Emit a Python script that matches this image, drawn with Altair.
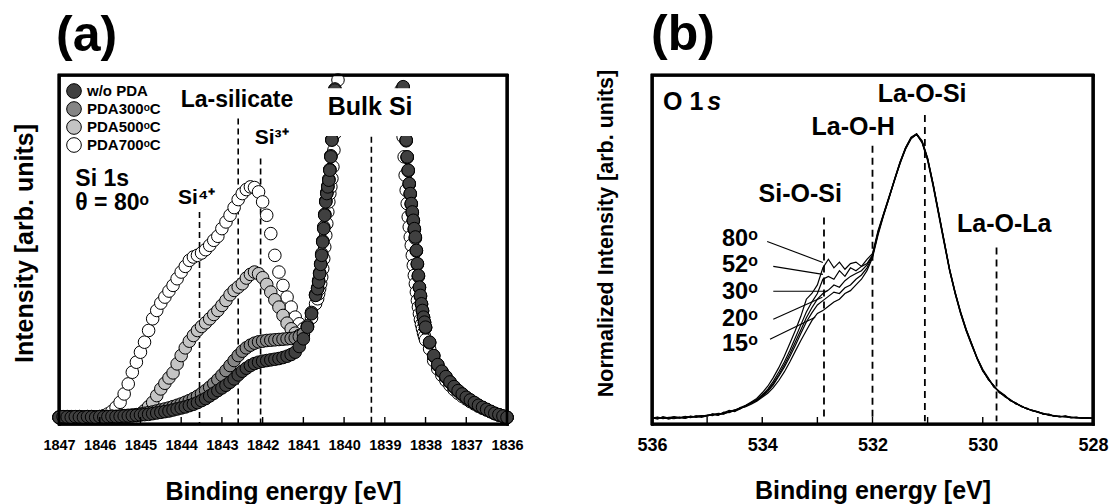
import altair as alt
import pandas as pd

FONT = "Liberation Sans"

# ---------------- Panel (a): Si 1s ----------------
series_a = ["w/o PDA", "PDA300ᵒC", "PDA500ᵒC", "PDA700ᵒC"]
fills_a = ["#404040", "#858585", "#c4c4c4", "#ffffff"]
draw_order = ["PDA700ᵒC", "PDA500ᵒC", "PDA300ᵒC", "w/o PDA"]

# binding-energy grid of the measured points (eV)
e_part1 = [round(1847.0 - 0.1 * i, 3) for i in range(64)]     # 1847.0 .. 1840.7
e_part2 = [round(1840.65 - 0.025 * i, 3) for i in range(21)]  # 1840.65 .. 1840.15
e_part3 = [1840.0, 1839.6, 1839.3, 1839.0, 1838.7]
e_part4 = [round(1838.6 - 0.025 * i, 3) for i in range(25)]   # 1838.6 .. 1838.0
e_part5 = [round(1837.9 - 0.1 * i, 3) for i in range(20)]     # 1837.9 .. 1836.0
energy_a = e_part1 + e_part2 + e_part3 + e_part4 + e_part5

wo_pda = [20, 22, 21, 20, 22, 21, 20, 22, 21, 20,
          22, 21, 22, 23, 22, 23, 24, 24, 25, 26,
          27, 28, 29, 31, 33, 35, 37, 39, 42, 45,
          48, 51, 55, 59, 64, 70, 76, 84, 92, 100,
          108, 116, 125, 135, 147, 158, 167, 175, 181, 185,
          188, 190, 192, 194, 196, 199, 203, 208, 215, 232,
          255, 290, 330, 385,
          405, 425, 450, 478, 505, 545, 585, 625, 665, 690, 710, 730, 760, 800, 850, 900, 950, 1000, 1050, 1100, 1160,
          1500, 3000, 3600, 3000, 1500,
          1150, 1080, 1010, 950, 900, 850, 800, 760, 720, 690, 660, 635, 610, 585, 560, 520, 480, 445, 410, 385, 360, 340, 320, 305, 290,
          245, 205, 178, 158, 142, 126, 112, 100, 90, 80, 72, 64, 56, 50, 44, 38, 32, 28, 24, 20]

pda300 = [21, 20, 22, 21, 20, 22, 21, 20, 22, 21,
          21, 22, 22, 23, 23, 24, 25, 26, 27, 28,
          30, 32, 34, 36, 39, 42, 45, 48, 52, 56,
          60, 65, 70, 76, 83, 91, 100, 110, 121, 133,
          146, 160, 175, 190, 205, 218, 228, 236, 242, 246,
          248, 250, 251, 252, 253, 254, 255, 256, 258, 262,
          270, 294, 334, 388,
          408, 430, 453, 480, 510, 548, 590, 628, 668, 693, 712, 733, 762, 803, 852, 902, 952, 1003, 1052, 1104, 1162,
          1500, 3000, 3600, 3000, 1500,
          1140, 1075, 1005, 948, 896, 848, 798, 758, 718, 688, 658, 632, 608, 582, 556, 518, 478, 442, 408, 382, 358, 338, 318, 303, 288,
          243, 204, 176, 157, 140, 125, 111, 99, 89, 79, 71, 63, 55, 49, 43, 37, 31, 27, 23, 20]

pda500 = [20, 21, 22, 20, 21, 22, 20, 21, 22, 21,
          22, 21, 22, 22, 21, 21, 22, 23, 24, 25,
          30, 40, 52, 65, 85, 105, 122, 138, 153, 180,
          205, 228, 248, 265, 280, 292, 303, 315, 328, 340,
          355, 370, 387, 400, 410, 420, 437, 448, 455, 450,
          438, 418, 395, 372, 350, 325, 302, 285, 272, 265,
          268, 292, 332, 386,
          406, 427, 451, 479, 507, 547, 587, 627, 667, 692, 711, 732, 761, 802, 851, 901, 951, 1002, 1051, 1102, 1161,
          1500, 3000, 3600, 3000, 1500,
          1145, 1078, 1008, 949, 898, 849, 799, 759, 719, 689, 659, 633, 609, 583, 558, 519, 479, 443, 409, 383, 359, 339, 319, 304, 289,
          244, 204, 177, 157, 141, 125, 111, 99, 89, 79, 71, 63, 56, 49, 43, 37, 31, 27, 23, 20]

pda700 = [19, 21, 20, 22, 21, 19, 21, 22, 20, 21,
          22, 25, 30, 38, 50, 65, 90, 120, 155, 185,
          215, 245, 280, 315, 340, 362, 380, 398, 415, 435,
          455, 472, 490, 500, 505, 512, 522, 535, 550, 562,
          585, 605, 625, 648, 672, 690, 702, 710, 708, 695,
          665, 625, 570, 505, 455, 415, 380, 350, 320, 300,
          285, 290, 318, 360,
          375, 390, 405, 420, 440, 465, 495, 530, 565, 600, 635, 665, 690, 710, 735, 770, 820, 870, 920, 975, 1030,
          1400, 2800, 3400, 2800, 1400,
          1000, 930, 860, 800, 745, 700, 660, 620, 590, 560, 535, 505, 475, 445, 420, 395, 370, 350, 330, 312, 298, 285, 272, 262, 252,
          225, 190, 165, 146, 130, 116, 103, 92, 83, 75, 67, 60, 53, 47, 42, 37, 32, 27, 23, 19]

values_a = {"w/o PDA": wo_pda, "PDA300ᵒC": pda300, "PDA500ᵒC": pda500, "PDA700ᵒC": pda700}

tick_a = [1846, 1845, 1844, 1843, 1842, 1841, 1840, 1839, 1838, 1837]
label_a = [1847, 1846, 1845, 1844, 1843, 1842, 1841, 1840, 1839, 1838, 1837, 1836]

dash_a_energy = [1843.55, 1842.6, 1842.05, 1839.33]
dash_a_top = [635, 915, 795, 890]

ann_a_text = ["La-silicate", "Bulk Si", "Si³⁺", "Si⁴⁺"]
ann_a_energy = [1842.63, 1839.36, 1841.78, 1843.62]
ann_a_int = [970, 950, 855, 676]
ann_a_size = [23, 25, 21, 21]

left_a_text = ["Si 1s", "θ = 80ᵒ"]
left_a_energy = [1846.6, 1846.6]
left_a_int = [734, 662]

bulk_box = {"e1": [1840.5], "e2": [1838.2], "i1": [862], "i2": [1005]}

# ---------------- Panel (b): O 1s ----------------
angles = ["80ᵒ", "52ᵒ", "30ᵒ", "20ᵒ", "15ᵒ"]
energy_b = [round(536.0 - 0.1 * i, 2) for i in range(81)]

o1s_80 = [0.005, 0.000, 0.008, 0.003, 0.001, 0.006, 0.004, 0.010, 0.007, 0.012,
          0.010, 0.018, 0.014, 0.022, 0.030, 0.026, 0.040, 0.048, 0.060, 0.072,
          0.092, 0.115, 0.145, 0.180, 0.220, 0.265, 0.310, 0.360, 0.420, 0.440,
          0.470, 0.530, 0.560, 0.530, 0.550, 0.525, 0.545, 0.550, 0.535, 0.560,
          0.580, 0.660, 0.720, 0.780, 0.840, 0.900, 0.950, 0.985, 1.000, 0.970,
          0.910, 0.820, 0.720, 0.620, 0.520, 0.440, 0.370, 0.310, 0.260, 0.210,
          0.170, 0.140, 0.115, 0.095, 0.080, 0.066, 0.055, 0.045, 0.036, 0.030,
          0.025, 0.018, 0.015, 0.010, 0.008, 0.010, 0.005, 0.006, 0.003, 0.004,
          0.002]
o1s_52 = [0.002, 0.006, 0.001, 0.005, 0.008, 0.003, 0.009, 0.006, 0.011, 0.009,
          0.014, 0.012, 0.020, 0.018, 0.026, 0.032, 0.036, 0.046, 0.056, 0.068,
          0.085, 0.105, 0.132, 0.165, 0.200, 0.240, 0.285, 0.330, 0.375, 0.410,
          0.440, 0.490, 0.500, 0.490, 0.520, 0.500, 0.530, 0.520, 0.535, 0.545,
          0.575, 0.655, 0.715, 0.775, 0.838, 0.895, 0.948, 0.982, 0.998, 0.968,
          0.905, 0.815, 0.715, 0.615, 0.518, 0.438, 0.368, 0.308, 0.258, 0.212,
          0.172, 0.138, 0.118, 0.092, 0.082, 0.064, 0.056, 0.043, 0.038, 0.028,
          0.026, 0.016, 0.017, 0.009, 0.010, 0.007, 0.006, 0.004, 0.005, 0.002,
          0.003]
o1s_30 = [0.004, 0.002, 0.006, 0.000, 0.005, 0.007, 0.002, 0.008, 0.009, 0.006,
          0.012, 0.016, 0.013, 0.024, 0.022, 0.030, 0.038, 0.044, 0.058, 0.066,
          0.082, 0.100, 0.125, 0.155, 0.190, 0.228, 0.270, 0.312, 0.355, 0.390,
          0.420, 0.440, 0.452, 0.470, 0.462, 0.485, 0.500, 0.510, 0.520, 0.540,
          0.572, 0.652, 0.718, 0.778, 0.836, 0.898, 0.946, 0.984, 0.997, 0.972,
          0.912, 0.822, 0.722, 0.622, 0.522, 0.442, 0.372, 0.312, 0.262, 0.210,
          0.168, 0.142, 0.114, 0.096, 0.078, 0.068, 0.053, 0.046, 0.035, 0.031,
          0.023, 0.019, 0.013, 0.011, 0.007, 0.009, 0.004, 0.007, 0.002, 0.005,
          0.001]
o1s_20 = [0.003, 0.007, 0.002, 0.006, 0.003, 0.004, 0.008, 0.005, 0.010, 0.011,
          0.011, 0.015, 0.019, 0.017, 0.028, 0.027, 0.035, 0.047, 0.055, 0.064,
          0.080, 0.096, 0.120, 0.150, 0.182, 0.218, 0.258, 0.300, 0.340, 0.372,
          0.400, 0.415, 0.430, 0.445, 0.440, 0.460, 0.470, 0.490, 0.505, 0.530,
          0.570, 0.650, 0.716, 0.776, 0.842, 0.902, 0.952, 0.988, 1.000, 0.975,
          0.915, 0.825, 0.725, 0.625, 0.525, 0.445, 0.375, 0.315, 0.264, 0.214,
          0.174, 0.144, 0.112, 0.097, 0.083, 0.065, 0.057, 0.044, 0.037, 0.029,
          0.024, 0.020, 0.014, 0.012, 0.009, 0.008, 0.007, 0.005, 0.004, 0.003,
          0.004]
o1s_15 = [0.006, 0.003, 0.005, 0.002, 0.007, 0.005, 0.003, 0.009, 0.006, 0.010,
          0.013, 0.017, 0.016, 0.020, 0.024, 0.031, 0.039, 0.043, 0.052, 0.062,
          0.076, 0.090, 0.110, 0.135, 0.165, 0.200, 0.238, 0.275, 0.310, 0.345,
          0.370, 0.380, 0.395, 0.410, 0.420, 0.440, 0.450, 0.470, 0.490, 0.520,
          0.565, 0.645, 0.712, 0.774, 0.838, 0.898, 0.950, 0.986, 0.999, 0.973,
          0.913, 0.823, 0.723, 0.623, 0.523, 0.443, 0.373, 0.313, 0.263, 0.213,
          0.171, 0.141, 0.117, 0.094, 0.081, 0.067, 0.054, 0.045, 0.036, 0.030,
          0.025, 0.017, 0.016, 0.010, 0.008, 0.011, 0.006, 0.005, 0.004, 0.003,
          0.002]
values_b = {"80ᵒ": o1s_80, "52ᵒ": o1s_52, "30ᵒ": o1s_30, "20ᵒ": o1s_20, "15ᵒ": o1s_15}

tick_b = [535, 534, 533, 532, 531, 530, 529]
label_b = [536, 534, 532, 530, 528]

dash_b_energy = [532.88, 532.0, 531.05, 529.75]
dash_b_top = [0.706, 0.958, 1.066, 0.601]

ann_b_text = ["La-O-Si", "La-O-H", "Si-O-Si", "La-O-La"]
ann_b_energy = [531.1, 532.35, 533.31, 529.61]
ann_b_int = [1.14, 1.025, 0.79, 0.685]

angle_label_energy = 534.73
angle_label_int = [0.632, 0.540, 0.446, 0.350, 0.262]
leader_e1 = [533.91, 533.80, 533.80, 533.80, 533.86]
leader_i1 = [0.622, 0.535, 0.448, 0.350, 0.280]
leader_e2 = [532.90, 532.90, 532.82, 532.91, 533.04]
leader_i2 = [0.549, 0.507, 0.448, 0.427, 0.357]

# ---------------- build ----------------
WA, WB, H = 448, 441, 349
XA_DOM, YA_DOM = [1836, 1847], [0, 1045]
XB_DOM, YB_DOM = [528, 536], [-0.0175, 1.206]
TICK_A_LEN, TICK_B_LEN = 21, 0.0245   # about 7 px in each panel's units
LW = 2.6

xa = alt.Scale(domain=XA_DOM, reverse=True, nice=False, zero=False)
ya = alt.Scale(domain=YA_DOM, nice=False, zero=False)
xb = alt.Scale(domain=XB_DOM, reverse=True, nice=False, zero=False)
yb = alt.Scale(domain=YB_DOM, nice=False, zero=False)

edge = dict(labels=False, ticks=False, grid=False, title=None, domain=True,
            domainColor="black", domainWidth=LW, domainCap="square")


def frame_rect(xdom, ydom, xs, ys):
    df = pd.DataFrame({"x1": [xdom[0]], "x2": [xdom[1]], "y1": [ydom[0]], "y2": [ydom[1]]})
    return alt.Chart(df).mark_rect(fill="white", fillOpacity=0, stroke="black",
                                   strokeWidth=LW).encode(
        x=alt.X("x1:Q", scale=xs, axis=alt.Axis(orient="top", **edge)), x2="x2:Q",
        y=alt.Y("y1:Q", scale=ys, axis=alt.Axis(orient="right", **edge)), y2="y2:Q")


def frame_line(xdom, ydom, xs, ys):
    df = pd.DataFrame({"fx": [xdom[0], xdom[1], xdom[1], xdom[0], xdom[0]],
                       "fy": [ydom[0], ydom[0], ydom[1], ydom[1], ydom[0]],
                       "k": [0, 1, 2, 3, 4]})
    return alt.Chart(df).mark_line(color="black", strokeWidth=LW, strokeCap="square",
                                   strokeJoin="miter").encode(
        x=alt.X("fx:Q", scale=xs, axis=None), y=alt.Y("fy:Q", scale=ys, axis=None),
        order=alt.Order("k:Q"))


def tick_lines(vals, ybase, length, xs, ys):
    df = pd.DataFrame({"tx": [v for v in vals for _ in (0, 1)],
                       "ty": [y for _ in vals for y in (ybase, ybase + length)],
                       "tid": [i for i in range(len(vals)) for _ in (0, 1)]})
    return alt.Chart(df).mark_line(color="black", strokeWidth=1.4).encode(
        x=alt.X("tx:Q", scale=xs, axis=None), y=alt.Y("ty:Q", scale=ys, axis=None),
        detail="tid:N")


rows = []
for k, name in enumerate(draw_order):
    for e, v in zip(energy_a, values_a[name]):
        rows.append({"E": e, "I": v, "series": name, "order": k})
df_a = pd.DataFrame(rows)

axis_xa = alt.Axis(values=label_a, format="d", labelFontSize=14.5, labelPadding=14,
                   ticks=False, tickSize=0, domain=True, domainColor="black", domainWidth=LW,
                   domainCap="square", grid=False, labelFlush=False,
                   labelOverlap=False, title="Binding energy [eV]", titleFontSize=25,
                   titlePadding=28, titleFontWeight="bold", labelFontWeight="bold")
axis_ya = alt.Axis(labels=False, ticks=False, tickSize=0, domain=True, domainColor="black",
                   domainWidth=LW, domainCap="square", grid=False,
                   title="Intensity [arb. units]", titleFontSize=25, titlePadding=22,
                   titleY=168, titleFontWeight="bold")

dash_a = alt.Chart(pd.DataFrame({"E": dash_a_energy, "top": dash_a_top,
                                 "bot": [YA_DOM[0]] * 4})).mark_rule(
    color="black", strokeWidth=1.6, strokeDash=[6, 4]).encode(
    x=alt.X("E:Q", scale=xa, axis=axis_xa),
    y=alt.Y("top:Q", scale=ya, axis=axis_ya),
    y2="bot:Q")

pts_a = alt.Chart(df_a).transform_filter("datum.I <= 1045").mark_circle(
    size=158, opacity=1, stroke="black", strokeWidth=1).encode(
    x=alt.X("E:Q", scale=xa, axis=None),
    y=alt.Y("I:Q", scale=ya, axis=None),
    fill=alt.Fill("series:N", scale=alt.Scale(domain=series_a, range=fills_a),
                  legend=alt.Legend(title=None, orient="none", legendX=7, legendY=8,
                                    symbolType="circle", symbolSize=215,
                                    symbolStrokeColor="black", symbolStrokeWidth=1,
                                    symbolOpacity=1, labelFont=FONT, labelFontWeight="bold",
                                    labelFontSize=15, labelOffset=5, rowPadding=-2,
                                    padding=0)),
    order=alt.Order("order:Q"))

box_a = alt.Chart(pd.DataFrame(bulk_box)).mark_rect(fill="white").encode(
    x=alt.X("e1:Q", scale=xa, axis=None), x2="e2:Q",
    y=alt.Y("i1:Q", scale=ya, axis=None), y2="i2:Q")

df_ann_a = pd.DataFrame({"t": ann_a_text, "E": ann_a_energy, "I": ann_a_int, "s": ann_a_size})
txt_a = alt.Chart(df_ann_a).mark_text(font=FONT, fontWeight="bold", align="center",
                                      baseline="middle", color="black").encode(
    x=alt.X("E:Q", scale=xa, axis=None), y=alt.Y("I:Q", scale=ya, axis=None), text="t:N",
    size=alt.Size("s:Q", scale=None, legend=None))

txt_a_left = alt.Chart(pd.DataFrame({"t": left_a_text, "E": left_a_energy, "I": left_a_int})).mark_text(
    font=FONT, fontWeight="bold", align="left", baseline="middle", fontSize=23, color="black").encode(
    x=alt.X("E:Q", scale=xa, axis=None), y=alt.Y("I:Q", scale=ya, axis=None), text="t:N")

panel_a = alt.layer(
    dash_a, frame_rect(XA_DOM, YA_DOM, xa, ya),
    pts_a, box_a, txt_a, txt_a_left,
    tick_lines(tick_a, YA_DOM[0], TICK_A_LEN, xa, ya),
    frame_line(XA_DOM, YA_DOM, xa, ya)
).resolve_axis(x="independent", y="independent").properties(
    width=WA, height=H,
    title=alt.Title("(a)", anchor="start", frame="group", fontSize=50, font=FONT,
                    fontWeight="bold", offset=9, dx=-3))

# panel b
rows_b = []
for name in angles:
    for e, v in zip(energy_b, values_b[name]):
        rows_b.append({"E": e, "I": v, "angle": name})
df_b = pd.DataFrame(rows_b)

axis_xb = alt.Axis(values=label_b, format="d", labelFontSize=18, labelPadding=12,
                   ticks=False, tickSize=0, domain=True, domainColor="black", domainWidth=LW,
                   domainCap="square", grid=False, labelFlush=False,
                   labelOverlap=False, title="Binding energy [eV]", titleFontSize=25,
                   titlePadding=24, titleFontWeight="bold", labelFontWeight="bold")
axis_yb = alt.Axis(labels=False, ticks=False, tickSize=0, domain=True, domainColor="black",
                   domainWidth=LW, domainCap="square", grid=False,
                   title="Normalized Intensity [arb. units]", titleFontSize=21.5,
                   titlePadding=35, titleY=158, titleFontWeight="bold")

dash_b = alt.Chart(pd.DataFrame({"E": dash_b_energy, "top": dash_b_top,
                                 "bot": [-0.008] * 4})).mark_rule(
    color="black", strokeWidth=1.8, strokeDash=[7, 5]).encode(
    x=alt.X("E:Q", scale=xb, axis=axis_xb),
    y=alt.Y("top:Q", scale=yb, axis=axis_yb),
    y2="bot:Q")

lines_b = alt.Chart(df_b).mark_line(color="black", strokeWidth=1.2).encode(
    x=alt.X("E:Q", scale=xb, axis=None), y=alt.Y("I:Q", scale=yb, axis=None),
    detail="angle:N")

leaders = alt.Chart(pd.DataFrame({"e1": leader_e1, "i1": leader_i1, "e2": leader_e2, "i2": leader_i2})).mark_rule(
    color="black", strokeWidth=1.1).encode(
    x=alt.X("e1:Q", scale=xb, axis=None), y=alt.Y("i1:Q", scale=yb, axis=None),
    x2="e2:Q", y2="i2:Q")

txt_b = alt.Chart(pd.DataFrame({"t": ann_b_text, "E": ann_b_energy, "I": ann_b_int})).mark_text(
    font=FONT, fontWeight="bold", align="center", baseline="middle", fontSize=25, color="black").encode(
    x=alt.X("E:Q", scale=xb, axis=None), y=alt.Y("I:Q", scale=yb, axis=None), text="t:N")

txt_angles = alt.Chart(pd.DataFrame({"t": angles, "E": [angle_label_energy] * 5, "I": angle_label_int})).mark_text(
    font=FONT, fontWeight="bold", align="left", baseline="middle", fontSize=23.5, color="black").encode(
    x=alt.X("E:Q", scale=xb, axis=None), y=alt.Y("I:Q", scale=yb, axis=None), text="t:N")

o1s_label = alt.Chart(pd.DataFrame({"t": ["O 1"], "E": [535.8], "I": [1.11]})).mark_text(
    font=FONT, fontWeight="bold", align="left", baseline="middle", fontSize=25, color="black").encode(
    x=alt.X("E:Q", scale=xb, axis=None), y=alt.Y("I:Q", scale=yb, axis=None), text="t:N")
o1s_s = alt.Chart(pd.DataFrame({"t": ["s"], "E": [535.0], "I": [1.11]})).mark_text(
    font=FONT, fontWeight="bold", fontStyle="italic", align="left", baseline="middle",
    fontSize=25, color="black").encode(
    x=alt.X("E:Q", scale=xb, axis=None), y=alt.Y("I:Q", scale=yb, axis=None), text="t:N")

panel_b = alt.layer(
    dash_b, frame_rect(XB_DOM, YB_DOM, xb, yb),
    lines_b, leaders, txt_b, txt_angles, o1s_label, o1s_s,
    tick_lines(tick_b, YB_DOM[0], TICK_B_LEN, xb, yb),
    frame_line(XB_DOM, YB_DOM, xb, yb)
).resolve_axis(x="independent", y="independent").properties(
    width=WB, height=H,
    title=alt.Title("(b)", anchor="start", frame="group", fontSize=50, font=FONT,
                    fontWeight="bold", offset=9, dx=-1))

chart = alt.hconcat(panel_a, panel_b, spacing=68).properties(
    padding={"left": 10, "top": 9, "right": 0, "bottom": 0},
    background="white"
).configure_view(stroke="black", strokeWidth=LW).configure_axis(
    labelFont=FONT, labelFontWeight="bold", labelColor="black",
    titleFont=FONT, titleFontWeight="bold", titleColor="black"
)

chart.save("out.html", embed_options={"renderer": "svg", "actions": False})
